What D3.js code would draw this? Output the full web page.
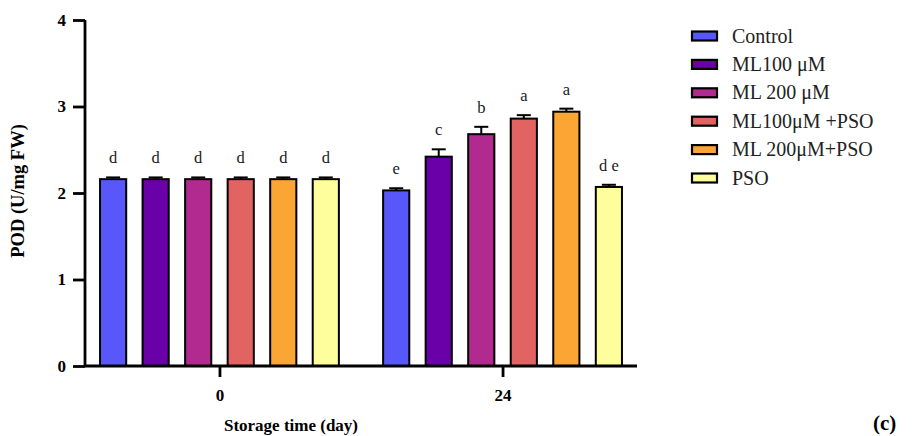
<!DOCTYPE html>
<html>
<head>
<meta charset="utf-8">
<script src="https://cdn.jsdelivr.net/npm/d3@7"></script>
<style>
  body { margin: 0; background: #fff; }
  svg { display: block; }
  text { font-family: "Liberation Serif", "Times New Roman", serif; }
</style>
</head>
<body>
<svg id="chart" width="920" height="436"></svg>
<script>
// Storage days (x groups)
const days = ["0", "24"];
// Treatments (series)
const treatments = ["Control", "ML100 \u03bcM", "ML 200 \u03bcM", "ML100\u03bcM +PSO", "ML 200\u03bcM+PSO", "PSO"];
const colors = ["#5858FA", "#6A00A8", "#B12A8F", "#E16462", "#FBA535", "#FEFE9C"];
// POD means per day, one value per treatment
const day0Values  = [2.16, 2.16, 2.16, 2.16, 2.16, 2.16];
const day24Values = [2.03, 2.42, 2.68, 2.86, 2.94, 2.07];
// Error (SD) per day
const day0Errors  = [0.02, 0.02, 0.02, 0.02, 0.02, 0.02];
const day24Errors = [0.025, 0.085, 0.085, 0.04, 0.035, 0.025];
// Significance letters
const day0Letters  = ["d", "d", "d", "d", "d", "d"];
const day24Letters = ["e", "c", "b", "a", "a", "d e"];
const yTicks = [0, 1, 2, 3, 4];

const rows = [];
days.forEach((d, di) => {
  const vals = di === 0 ? day0Values : day24Values;
  const errs = di === 0 ? day0Errors : day24Errors;
  const lets = di === 0 ? day0Letters : day24Letters;
  treatments.forEach((t, ti) => rows.push({ day: d, treatment: t, value: vals[ti], err: errs[ti], letter: lets[ti], color: colors[ti] }));
});

const svg = d3.select("#chart");
const plotL = 85, plotR = 637, plotT = 20, plotB = 366;
const serif = "'Liberation Serif', 'Times New Roman', serif";

const x = d3.scalePoint().domain(days).range([plotL, plotR]).padding(0.475);
const xInner = d3.scaleBand().domain(treatments).range([-127.5, 127.5]).paddingInner(0.385).paddingOuter(0.19);
const y = d3.scaleLinear().domain([0, 4]).range([plotB, plotT]);

const g = svg.append("g");

// bars
g.selectAll("rect.bar").data(rows).join("rect")
  .attr("class", "bar")
  .attr("x", d => x(d.day) + xInner(d.treatment))
  .attr("y", d => y(d.value))
  .attr("width", xInner.bandwidth())
  .attr("height", d => y(0) - y(d.value))
  .attr("fill", d => d.color)
  .attr("stroke", "#000")
  .attr("stroke-width", 2);

// error bars (upper)
const cx = d => x(d.day) + xInner(d.treatment) + xInner.bandwidth() / 2;
g.selectAll("line.err").data(rows).join("line")
  .attr("class", "err")
  .attr("x1", cx).attr("x2", cx)
  .attr("y1", d => y(d.value)).attr("y2", d => y(d.value + d.err))
  .attr("stroke", "#000").attr("stroke-width", 2);
g.selectAll("line.cap").data(rows).join("line")
  .attr("class", "cap")
  .attr("x1", d => cx(d) - 7).attr("x2", d => cx(d) + 7)
  .attr("y1", d => y(d.value + d.err)).attr("y2", d => y(d.value + d.err))
  .attr("stroke", "#000").attr("stroke-width", 2);

// letters
g.selectAll("text.letter").data(rows).join("text")
  .attr("class", "letter")
  .attr("x", cx)
  .attr("y", d => y(d.value + d.err) - 14)
  .attr("text-anchor", "middle")
  .style("font-family", serif)
  .style("font-size", "16.5px")
  .attr("fill", "#1a1a1a")
  .text(d => d.letter);

// y axis
const yAxis = svg.append("g").attr("transform", `translate(${plotL},0)`)
  .call(d3.axisLeft(y).tickValues(yTicks).tickFormat(d3.format("d")).tickSize(12).tickPadding(7));
// x axis
const xAxis = svg.append("g").attr("transform", `translate(0,${plotB})`)
  .call(d3.axisBottom(x).tickSize(11).tickPadding(12));
xAxis.select(".domain").attr("d", `M${plotL},0H${plotR}`);
[yAxis, xAxis].forEach(a => {
  a.selectAll(".domain, .tick line").attr("stroke", "#000").attr("stroke-width", 2.8);
  a.selectAll(".tick text")
    .style("font-family", serif)
    .style("font-weight", "bold").style("font-size", "17px").attr("fill", "#000");
});
yAxis.select(".domain").attr("d", `M0,${plotT}V${plotB}`);

// axis titles
svg.append("text")
  .attr("transform", `translate(24,${(plotT + plotB) / 2 - 2}) rotate(-90)`)
  .attr("text-anchor", "middle")
  .style("font-family", serif)
  .style("font-weight", "bold").style("font-size", "18.5px")
  .text("POD (U/mg FW)");
svg.append("text")
  .attr("x", 291).attr("y", 431)
  .attr("text-anchor", "middle")
  .style("font-family", serif)
  .style("font-weight", "bold").style("font-size", "17px")
  .text("Storage time (day)");

// legend
const legend = svg.append("g").attr("transform", "translate(692,36)");
const li = legend.selectAll("g").data(treatments).join("g")
  .attr("transform", (d, i) => `translate(0,${i * 28.4})`);
li.append("rect")
  .attr("x", 0).attr("y", -4.5).attr("width", 25).attr("height", 9)
  .attr("fill", (d, i) => colors[i]).attr("stroke", "#000").attr("stroke-width", 2.2);
li.append("text")
  .attr("x", 40).attr("y", 6.5)
  .style("font-family", serif)
  .style("font-size", "20px").attr("fill", "#222")
  .text(d => d);

// panel label
svg.append("text")
  .attr("x", 873).attr("y", 430)
  .style("font-family", serif)
  .style("font-weight", "bold").style("font-size", "21px")
  .text("(c)");
</script>
</body>
</html>
